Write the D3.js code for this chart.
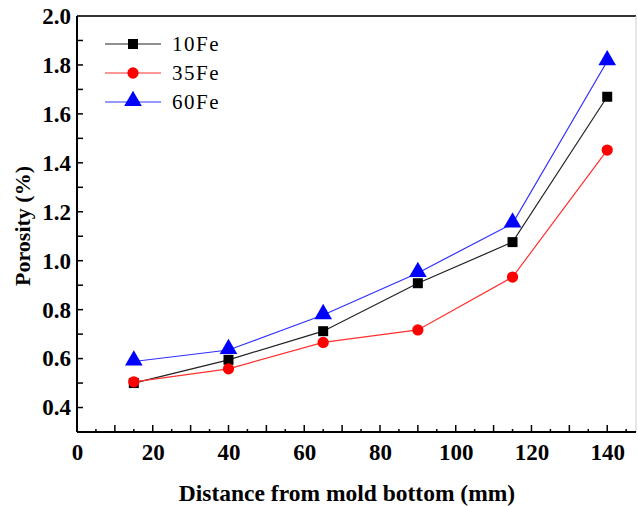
<!DOCTYPE html>
<html>
<head>
<meta charset="utf-8">
<script src="https://cdn.jsdelivr.net/npm/d3@7"></script>
<style>
  body { margin: 0; background: #fff; }
  svg { display: block; }
</style>
</head>
<body>
<div id="chart"></div>
<script>
var distance = [15, 40, 65, 90, 115, 140];
var fe10 = [0.50, 0.595, 0.712, 0.908, 1.076, 1.670];
var fe35 = [0.505, 0.558, 0.666, 0.717, 0.933, 1.452];
var fe60 = [0.588, 0.635, 0.778, 0.950, 1.152, 1.815];
var seriesNames = ['10Fe', '35Fe', '60Fe'];
var xTicks = [0, 20, 40, 60, 80, 100, 120, 140];
var yTicks = [0.4, 0.6, 0.8, 1.0, 1.2, 1.4, 1.6, 1.8, 2.0];

var width = 638, height = 506;
var margin = {top: 16, right: 2, bottom: 74, left: 77};

var svg = d3.select('#chart').append('svg')
    .attr('width', width)
    .attr('height', height);

var x = d3.scaleLinear().domain([0, 147.6]).range([margin.left, width - margin.right]);
var y = d3.scaleLinear().domain([0.3, 2.0]).range([height - margin.bottom, margin.top]);

var font = '"Liberation Serif", "Times New Roman", Times, serif';

// frame: top line dark, right line light
svg.append('line')
    .attr('x1', margin.left).attr('x2', width - margin.right)
    .attr('y1', margin.top).attr('y2', margin.top)
    .attr('stroke', '#333').attr('stroke-width', 2);
svg.append('line')
    .attr('x1', width - margin.right).attr('x2', width - margin.right)
    .attr('y1', margin.top).attr('y2', height - margin.bottom)
    .attr('stroke', '#ccc').attr('stroke-width', 1);

// x axis, ticks pointing inward
var xMinor = d3.range(5, 146, 5);
svg.append('g')
    .attr('transform', 'translate(0,' + (height - margin.bottom) + ')')
    .selectAll('line').data(xMinor).enter().append('line')
    .attr('x1', function(d) { return x(d); })
    .attr('x2', function(d) { return x(d); })
    .attr('y1', 0)
    .attr('y2', function(d) { return d % 10 === 0 ? -7 : -3; })
    .attr('stroke', '#000').attr('stroke-width', 1.5);

var xAxis = svg.append('g')
    .attr('transform', 'translate(0,' + (height - margin.bottom) + ')')
    .call(d3.axisBottom(x).tickValues(xTicks).tickSize(0).tickPadding(12).tickSizeOuter(0));
xAxis.select('.domain').attr('stroke', '#000').attr('stroke-width', 2)
    .attr('d', 'M' + margin.left + ',0H' + (width - margin.right));
xAxis.selectAll('text')
    .attr('font-family', font).attr('font-weight', 'bold').attr('font-size', 23).attr('fill', '#000');

// y axis
var yMinor = d3.range(4, 20).map(function(d) { return d / 10; });
svg.append('g')
    .attr('transform', 'translate(' + margin.left + ',0)')
    .selectAll('line').data(yMinor).enter().append('line')
    .attr('x1', 0).attr('x2', 6)
    .attr('y1', function(d) { return y(d); })
    .attr('y2', function(d) { return y(d); })
    .attr('stroke', '#000').attr('stroke-width', 1.5);

var yAxis = svg.append('g')
    .attr('transform', 'translate(' + margin.left + ',0)')
    .call(d3.axisLeft(y).tickValues(yTicks).tickFormat(d3.format('.1f')).tickSize(0).tickPadding(6).tickSizeOuter(0));
yAxis.select('.domain').attr('stroke', '#000').attr('stroke-width', 2)
    .attr('d', 'M0,' + (height - margin.bottom) + 'V' + margin.top);
yAxis.selectAll('text')
    .attr('font-family', font).attr('font-weight', 'bold').attr('font-size', 23).attr('fill', '#000');

// axis titles
svg.append('text')
    .attr('x', 347)
    .attr('y', 501)
    .attr('text-anchor', 'middle')
    .attr('font-family', font).attr('font-weight', 'bold').attr('font-size', 23.5)
    .text('Distance from mold bottom (mm)');
svg.append('text')
    .attr('transform', 'translate(30,226) rotate(-90)')
    .attr('text-anchor', 'middle')
    .attr('font-family', font).attr('font-weight', 'bold').attr('font-size', 22)
    .text('Porosity (%)');

// series
var series = [
    {name: seriesNames[0], values: fe10, color: '#000', line: '#222', shape: d3.symbolSquare, size: 100},
    {name: seriesNames[1], values: fe35, color: '#ff0000', line: '#ff3030', shape: d3.symbolCircle, size: 100},
    {name: seriesNames[2], values: fe60, color: '#0000ff', line: '#3030ff', shape: d3.symbolTriangle, size: 135}
];

var line = d3.line()
    .x(function(d, i) { return x(distance[i]); })
    .y(function(d) { return y(d); });

series.forEach(function(s) {
    svg.append('path')
        .attr('d', line(s.values))
        .attr('fill', 'none')
        .attr('stroke', s.line)
        .attr('stroke-width', 1.2);
});
series.forEach(function(s) {
    svg.append('g').selectAll('path').data(s.values).enter().append('path')
        .attr('d', d3.symbol().type(s.shape).size(s.size))
        .attr('transform', function(d, i) {
            var dy = s.shape === d3.symbolTriangle ? -1 : 0;
            return 'translate(' + x(distance[i]) + ',' + (y(d) + dy) + ')';
        })
        .attr('fill', s.color);
});

// legend
var legend = svg.append('g');
series.forEach(function(s, i) {
    var ly = 44 + i * 29;
    legend.append('line')
        .attr('x1', 105).attr('x2', 161)
        .attr('y1', ly).attr('y2', ly)
        .attr('stroke', s.line).attr('stroke-width', 1.2);
    legend.append('path')
        .attr('d', d3.symbol().type(s.shape).size(s.size))
        .attr('transform', 'translate(133,' + (s.shape === d3.symbolTriangle ? ly - 1 : ly) + ')')
        .attr('fill', s.color);
    legend.append('text')
        .attr('x', 172).attr('y', ly + 7)
        .attr('font-family', font).attr('font-size', 21)
        .attr('letter-spacing', 1.5)
        .text(s.name);
});
</script>
</body>
</html>
